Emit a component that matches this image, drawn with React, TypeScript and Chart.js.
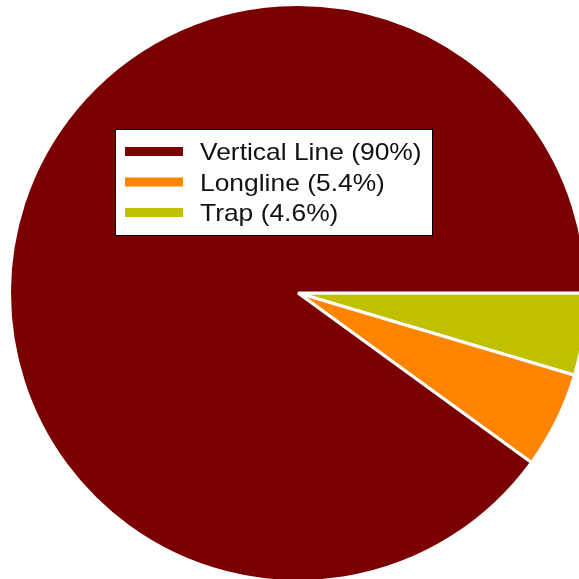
import React, { useEffect, useRef } from "react";
import { Chart, registerables } from "chart.js";

Chart.register(...registerables);

// Gear types and their share of the catch (percent), in drawing order (clockwise from 3 o'clock)
const categories = ["Trap", "Longline", "Vertical Line"];
const shares = [4.6, 5.4, 90];
const sliceColors = ["#bfc000", "#ff8400", "#7b0000"];

// Layout
const FRAME = 579;
const CANVAS_SIZE = 580;
const CANVAS_LEFT = 8;
const CANVAS_TOP = 3;
const LEGEND_BOX = { left: 115.5, top: 129.5, right: 432.5, bottom: 235.5 };
const LEGEND_SWATCH_X = 125;
const LEGEND_SWATCH_W = 58;
const LEGEND_SWATCH_H = 9;
const LEGEND_TEXT_X = 200;
const LEGEND_FIRST_BASELINE = 160;
const LEGEND_ROW_GAP = 30.5;

// Draws a boxed legend on top of the pie, listed in reverse data order
const insetLegend = {
  id: "insetLegend",
  afterDraw(chart: any) {
    const { ctx } = chart;
    const labels = chart.data.labels as string[];
    const ds = chart.data.datasets[0];
    const colors = ds.backgroundColor as string[];
    const values = ds.data as number[];
    const order = labels.map((_: string, i: number) => i).reverse();

    ctx.save();
    ctx.translate(-CANVAS_LEFT, -CANVAS_TOP);
    ctx.fillStyle = "#ffffff";
    ctx.fillRect(
      LEGEND_BOX.left,
      LEGEND_BOX.top,
      LEGEND_BOX.right - LEGEND_BOX.left,
      LEGEND_BOX.bottom - LEGEND_BOX.top
    );
    ctx.strokeStyle = "#000000";
    ctx.lineWidth = 1;
    ctx.strokeRect(
      LEGEND_BOX.left,
      LEGEND_BOX.top,
      LEGEND_BOX.right - LEGEND_BOX.left,
      LEGEND_BOX.bottom - LEGEND_BOX.top
    );

    order.forEach((idx: number, row: number) => {
      const baseline = LEGEND_FIRST_BASELINE + row * LEGEND_ROW_GAP;
      ctx.fillStyle = colors[idx];
      ctx.fillRect(LEGEND_SWATCH_X, baseline - 13, LEGEND_SWATCH_W, LEGEND_SWATCH_H);

      ctx.save();
      ctx.translate(LEGEND_TEXT_X, baseline);
      ctx.scale(1.1, 1);
      ctx.fillStyle = "#111111";
      ctx.font = "24px 'Liberation Sans', Arial, sans-serif";
      ctx.textBaseline = "alphabetic";
      ctx.textAlign = "left";
      ctx.fillText(`${labels[idx]} (${values[idx]}%)`, 0, 0);
      ctx.restore();
    });
    ctx.restore();
  },
};

export default function App() {
  const canvasRef = useRef<HTMLCanvasElement | null>(null);

  useEffect(() => {
    if (!canvasRef.current) return;
    const chart = new Chart(canvasRef.current, {
      type: "pie",
      data: {
        labels: categories,
        datasets: [
          {
            data: shares,
            backgroundColor: sliceColors,
            borderColor: "#ffffff",
            borderWidth: 3,
          },
        ],
      },
      options: {
        responsive: false,
        animation: false,
        devicePixelRatio: 1,
        rotation: 90,
        layout: { padding: 0 },
        plugins: {
          legend: { display: false },
          tooltip: { enabled: false },
        },
      },
      plugins: [insetLegend],
    });
    return () => chart.destroy();
  }, []);

  return (
    <div
      style={{
        position: "fixed",
        left: 0,
        top: 0,
        width: FRAME,
        height: FRAME,
        overflow: "hidden",
        background: "#ffffff",
      }}
    >
      <canvas
        ref={canvasRef}
        width={CANVAS_SIZE}
        height={CANVAS_SIZE}
        style={{
          position: "absolute",
          left: CANVAS_LEFT,
          top: CANVAS_TOP,
          width: CANVAS_SIZE,
          height: CANVAS_SIZE,
        }}
      />
    </div>
  );
}
